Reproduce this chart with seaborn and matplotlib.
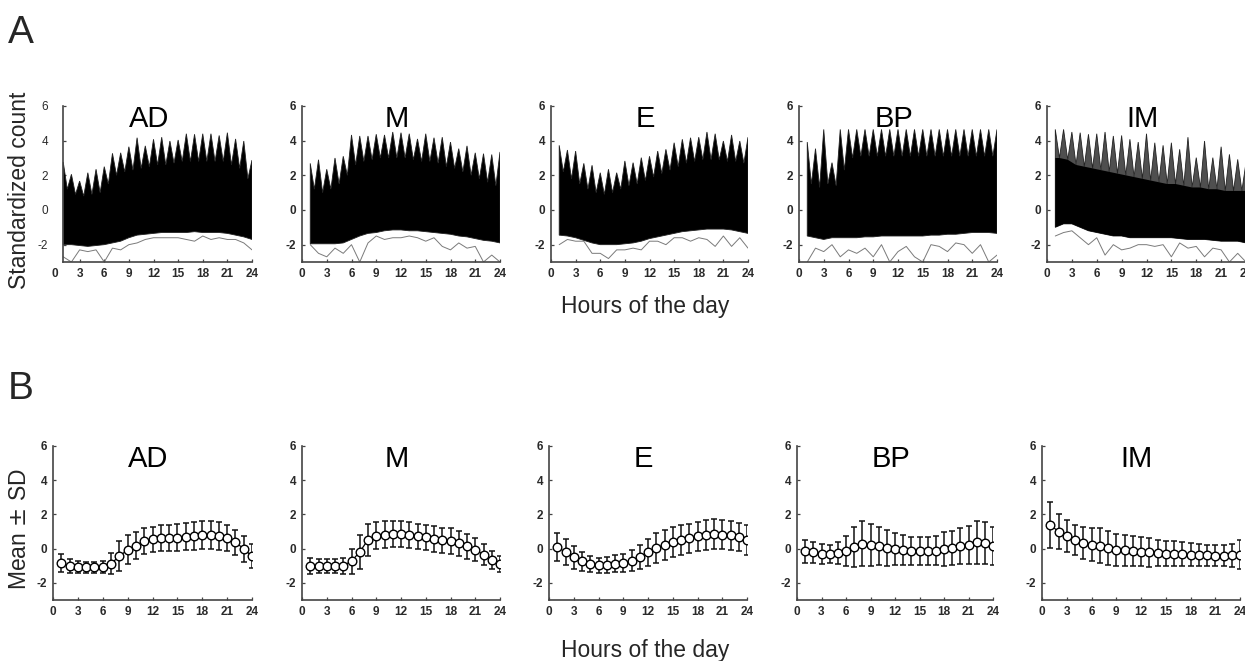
import numpy as np
import pandas as pd
import matplotlib
matplotlib.use("Agg")
import matplotlib.pyplot as plt
import seaborn as sns

# ---------------- data ----------------
groups = ["AD", "M", "E", "BP", "IM"]
hours = list(range(1, 25))
x_ticks = [0, 3, 6, 9, 12, 15, 18, 21, 24]
y_ticks = [-2, 0, 2, 4, 6]

# Panel A: envelope of the standardized-count traces
# peak = highest trace value at each hour, valley = top of dense mass between hours,
# low = bottom of dense mass at each hour, minline = lowest single trace at each hour
ad_peak = [2.77, 2.06, 1.67, 2.15, 2.35, 2.5, 3.27, 3.3, 3.65, 4.17, 3.7, 4.08,
           4.2, 3.98, 4.04, 4.4, 4.37, 4.4, 4.4, 4.3, 4.46, 4.1, 3.98, 2.88]
ad_valley = [1.2, 0.9, 0.8, 0.9, 1.0, 1.5, 2.0, 2.2, 2.3, 2.4, 2.5, 2.6,
             2.6, 2.7, 2.8, 2.8, 2.8, 2.8, 2.8, 2.8, 2.6, 2.4, 1.8]
ad_low = [-2.0, -2.0, -2.05, -2.1, -2.05, -2.0, -1.9, -1.8, -1.6, -1.45, -1.4, -1.35,
          -1.3, -1.3, -1.3, -1.3, -1.25, -1.3, -1.3, -1.3, -1.35, -1.45, -1.55, -1.7]
ad_minline = [-2.7, -3.0, -2.3, -2.4, -2.3, -3.0, -2.2, -2.3, -2.0, -1.9, -1.7, -1.6,
              -1.6, -1.6, -1.6, -1.7, -1.8, -1.5, -1.7, -1.6, -1.7, -1.7, -1.9, -2.3]

m_peak = [2.69, 2.9, 2.35, 3.0, 3.1, 4.33, 4.27, 4.27, 4.37, 4.33, 4.5, 4.46,
          4.4, 4.1, 4.4, 4.17, 4.2, 3.92, 3.54, 3.7, 3.3, 3.25, 3.2, 3.35]
m_valley = [1.2, 1.0, 1.2, 1.5, 2.0, 2.6, 2.8, 2.9, 3.0, 3.0, 3.0, 3.0,
            2.9, 2.8, 2.8, 2.7, 2.5, 2.4, 2.2, 2.0, 1.8, 1.6, 1.4]
m_low = [-1.95, -1.95, -1.95, -1.95, -1.9, -1.7, -1.5, -1.35, -1.3, -1.2, -1.15, -1.15,
         -1.2, -1.2, -1.25, -1.3, -1.35, -1.4, -1.5, -1.55, -1.65, -1.75, -1.8, -1.9]
m_minline = [-2.0, -2.5, -2.7, -2.2, -2.5, -2.0, -3.0, -1.9, -1.5, -1.7, -1.6, -1.6,
             -1.5, -1.6, -1.8, -1.6, -2.1, -2.3, -1.9, -2.2, -2.1, -3.0, -2.6, -3.0]

e_peak = [3.73, 3.46, 3.4, 2.69, 2.58, 2.15, 2.35, 2.15, 2.83, 2.73, 3.02, 3.1,
          3.4, 3.5, 3.88, 4.08, 4.17, 4.2, 4.5, 4.4, 3.98, 4.33, 3.98, 4.2]
e_valley = [2.2, 1.8, 1.5, 1.2, 1.0, 0.9, 1.0, 1.2, 1.4, 1.5, 1.7, 1.9,
            2.1, 2.3, 2.5, 2.7, 2.8, 2.9, 2.9, 2.9, 2.8, 2.8, 2.7]
e_low = [-1.45, -1.5, -1.6, -1.75, -1.9, -2.0, -2.0, -2.0, -1.95, -1.9, -1.8, -1.65,
         -1.55, -1.45, -1.35, -1.25, -1.2, -1.15, -1.1, -1.1, -1.1, -1.15, -1.25, -1.35]
e_minline = [-2.0, -1.7, -1.8, -1.8, -2.5, -2.5, -2.8, -2.3, -2.3, -2.2, -2.3, -1.8,
             -1.8, -2.0, -1.6, -1.6, -1.8, -1.6, -1.7, -2.1, -1.5, -2.1, -1.6, -2.2]

bp_peak = [3.92, 3.54, 4.65, 2.73, 4.65, 4.65, 4.65, 4.65, 4.65, 4.65, 4.65, 4.65,
           4.65, 4.65, 4.65, 4.65, 4.65, 4.65, 4.65, 4.65, 4.65, 4.65, 4.65, 4.65]
bp_valley = [1.5, 1.3, 1.5, 1.4, 2.3, 3.0, 3.1, 3.1, 3.1, 3.1, 3.1, 3.1,
             3.1, 3.1, 3.1, 3.1, 3.1, 3.1, 3.1, 3.1, 3.1, 3.1, 3.1]
bp_low = [-1.5, -1.6, -1.7, -1.6, -1.6, -1.6, -1.6, -1.55, -1.55, -1.5, -1.5, -1.5,
          -1.5, -1.5, -1.5, -1.45, -1.45, -1.4, -1.4, -1.35, -1.3, -1.3, -1.3, -1.35]
bp_minline = [-3.0, -2.2, -2.4, -2.0, -2.7, -2.3, -2.5, -2.2, -2.7, -2.0, -3.0, -2.4,
              -2.1, -2.7, -3.0, -2.0, -2.1, -2.4, -1.9, -2.0, -2.5, -2.0, -3.0, -2.6]

im_peak = [4.65, 4.65, 4.5, 4.46, 4.37, 4.4, 4.5, 4.27, 4.3, 4.08, 3.92, 4.4,
           3.88, 3.73, 3.88, 3.5, 4.2, 3.02, 3.98, 3.02, 3.65, 3.21, 2.92, 2.73]
im_valley = [3.0, 2.9, 2.6, 2.5, 2.4, 2.3, 2.2, 2.1, 2.0, 1.9, 1.8, 1.7,
             1.6, 1.5, 1.5, 1.4, 1.3, 1.3, 1.2, 1.2, 1.1, 1.1, 1.1]
im_low = [-1.0, -0.8, -0.8, -1.0, -1.2, -1.3, -1.4, -1.5, -1.5, -1.6, -1.6, -1.6,
          -1.6, -1.6, -1.6, -1.65, -1.7, -1.7, -1.7, -1.75, -1.8, -1.8, -1.8, -1.9]
im_minline = [-1.5, -1.3, -1.2, -1.6, -2.0, -1.6, -2.6, -2.0, -2.3, -2.2, -2.0, -2.0,
              -2.1, -2.0, -2.7, -1.9, -2.2, -2.1, -2.7, -2.2, -2.3, -3.0, -2.5, -3.0]

# Panel B: hourly mean and SD
ad_mean = [-0.83, -1.02, -1.06, -1.1, -1.1, -1.05, -0.87, -0.45, -0.06, 0.18, 0.43, 0.56,
           0.62, 0.62, 0.64, 0.70, 0.73, 0.79, 0.79, 0.75, 0.62, 0.37, 0.0, -0.45]
ad_sd = [0.53, 0.43, 0.35, 0.3, 0.3, 0.35, 0.6, 0.87, 0.85, 0.8, 0.75, 0.73,
         0.76, 0.76, 0.78, 0.8, 0.8, 0.8, 0.82, 0.8, 0.75, 0.75, 0.75, 0.7]
m_mean = [-0.99, -1.03, -1.03, -1.03, -0.99, -0.73, -0.19, 0.52, 0.75, 0.81, 0.85, 0.85,
          0.81, 0.72, 0.66, 0.58, 0.48, 0.43, 0.33, 0.14, -0.06, -0.35, -0.64, -0.89]
m_sd = [0.47, 0.4, 0.4, 0.4, 0.47, 0.73, 0.98, 0.92, 0.78, 0.78, 0.77, 0.77,
        0.76, 0.74, 0.74, 0.75, 0.75, 0.75, 0.73, 0.73, 0.68, 0.62, 0.53, 0.48]
e_mean = [0.10, -0.21, -0.50, -0.73, -0.89, -0.97, -0.95, -0.89, -0.83, -0.70, -0.48, -0.21,
          0.04, 0.23, 0.37, 0.52, 0.62, 0.72, 0.81, 0.85, 0.81, 0.77, 0.68, 0.52]
e_sd = [0.82, 0.77, 0.66, 0.56, 0.48, 0.44, 0.45, 0.5, 0.53, 0.6, 0.7, 0.8,
        0.85, 0.87, 0.87, 0.87, 0.85, 0.85, 0.87, 0.87, 0.85, 0.86, 0.82, 0.87]
bp_mean = [-0.15, -0.21, -0.29, -0.31, -0.25, -0.15, 0.10, 0.29, 0.23, 0.14, 0.04, -0.02,
           -0.06, -0.12, -0.14, -0.15, -0.12, -0.02, 0.04, 0.14, 0.23, 0.37, 0.33, 0.17]
bp_sd = [0.66, 0.6, 0.58, 0.53, 0.65, 0.89, 1.16, 1.32, 1.22, 1.12, 1.03, 0.93,
         0.88, 0.83, 0.82, 0.83, 0.85, 1.0, 1.02, 1.04, 1.12, 1.26, 1.2, 1.11]
im_mean = [1.39, 1.0, 0.75, 0.52, 0.33, 0.23, 0.17, 0.04, -0.06, -0.10, -0.15, -0.17,
           -0.21, -0.27, -0.29, -0.31, -0.33, -0.35, -0.37, -0.39, -0.41, -0.41, -0.39, -0.35]
im_sd = [1.33, 1.0, 0.92, 0.87, 0.92, 0.97, 1.02, 0.97, 0.93, 0.91, 0.87, 0.87,
         0.85, 0.77, 0.75, 0.73, 0.7, 0.68, 0.66, 0.63, 0.61, 0.61, 0.68, 0.83]

top_data = {
    "AD": (ad_peak, ad_valley, ad_low, ad_minline),
    "M": (m_peak, m_valley, m_low, m_minline),
    "E": (e_peak, e_valley, e_low, e_minline),
    "BP": (bp_peak, bp_valley, bp_low, bp_minline),
    "IM": (im_peak, im_valley, im_low, im_minline),
}
bottom_data = {
    "AD": (ad_mean, ad_sd),
    "M": (m_mean, m_sd),
    "E": (e_mean, e_sd),
    "BP": (bp_mean, bp_sd),
    "IM": (im_mean, im_sd),
}

# ---------------- style ----------------
sns.set_theme(style="ticks")
plt.rcParams["font.family"] = ["Liberation Sans", "DejaVu Sans"]

W, H = 1245, 661
fig = plt.figure(figsize=(W / 100, H / 100), dpi=100)

spine_col = "#444444"
tick_col = "#2a2a2a"
TICK_FS = 8.5

top_px = [(55, 252), (302, 500), (551, 748), (799, 997), (1047, 1246)]
bot_px = [(53, 252), (302, 500), (549, 747), (797, 993), (1042, 1240)]
top_y = (106, 262)
bot_y = (446, 600)


def make_ax(xpx, ypx, ypad=4):
    x0, x1 = xpx
    y0, y1 = ypx
    ax = fig.add_axes([x0 / W, 1 - y1 / H, (x1 - x0) / W, (y1 - y0) / H])
    ax.set_xlim(0, 24)
    ax.set_ylim(-3, 6)
    for s in ["top", "right"]:
        ax.spines[s].set_visible(False)
    for s in ["left", "bottom"]:
        ax.spines[s].set_color(spine_col)
        ax.spines[s].set_linewidth(1.2)
    ax.tick_params(direction="in", length=2.5, width=0.9, color=spine_col,
                   labelsize=TICK_FS, labelcolor=tick_col)
    ax.tick_params(axis="x", pad=4)
    ax.tick_params(axis="y", pad=ypad)
    ax.set_facecolor("white")
    return ax


def finish_ticks(ax):
    ax.set_xticks(x_ticks)
    ax.set_yticks(y_ticks)
    ax.set_xticklabels([str(t) for t in x_ticks], fontsize=TICK_FS, fontweight="bold", color=tick_col)
    ax.set_yticklabels([str(t) for t in y_ticks], fontsize=TICK_FS, fontweight="bold", color=tick_col)


# ---------------- panel A ----------------
for i, g in enumerate(groups):
    ax = make_ax(top_px[i], top_y, ypad=11 if i == 0 else 4)
    peak, valley, low, minline = top_data[g]
    # zigzag upper edge: peaks at whole hours, valleys at half hours
    xs_up, ys_up = [], []
    for k, h in enumerate(hours):
        xs_up.append(h)
        ys_up.append(peak[k])
        if k < len(valley):
            xs_up.append(h + 0.5)
            ys_up.append(valley[k])
    poly_x = xs_up + hours[::-1]
    poly_y = ys_up + low[::-1]
    spike_col = "#4f4f4f" if g == "IM" else "black"
    ax.fill(poly_x, poly_y, color=spike_col, lw=0.6, ec="#222222", zorder=2)
    if g == "IM":
        core_x = [hours[0]] + [h + 0.5 for h in hours[:-1]] + [hours[-1]]
        core_y = [valley[0]] + valley + [valley[-1]]
        ax.fill(core_x + hours[::-1], core_y + low[::-1], color="black", lw=0, zorder=2.5)
    sns.lineplot(x=hours, y=minline, ax=ax, color="#7a7a7a", lw=0.7, zorder=1.5)
    ax.text(11.5, 4.8, g, ha="center", va="baseline", fontsize=21, color="black", zorder=5)
    ax.set_xlabel("")
    ax.set_ylabel("")
    finish_ticks(ax)
    if i == 0:
        ax.spines["left"].set_position(("data", 1))
        ax.spines["bottom"].set_bounds(1, 24)
        ax.xaxis.get_major_ticks()[0].tick1line.set_visible(False)

# ---------------- panel B ----------------
for i, g in enumerate(groups):
    ax = make_ax(bot_px[i], bot_y)
    mean, sd = bottom_data[g]
    ax.errorbar(hours, mean, yerr=sd, fmt="none", ecolor="#111111",
                elinewidth=1.1, capsize=2.3, capthick=1.1, zorder=2)
    sns.lineplot(x=hours, y=mean, ax=ax, color="black", lw=0.9, marker="o",
                 markersize=6.2, markerfacecolor="white", markeredgecolor="black",
                 markeredgewidth=1.0, zorder=3)
    ax.text(11.5, 4.8, g, ha="center", va="baseline", fontsize=21, color="black", zorder=5)
    ax.set_xlabel("")
    ax.set_ylabel("")
    finish_ticks(ax)

# ---------------- figure texts ----------------
fig.text(8 / W, 1 - 43 / H, "A", fontsize=28, va="baseline", ha="left")
fig.text(8 / W, 1 - 399 / H, "B", fontsize=28, va="baseline", ha="left")
fig.text(645 / W, 1 - 306 / H, "Hours of the day", fontsize=16.5, ha="center", va="center")
fig.text(645 / W, 1 - 650 / H, "Hours of the day", fontsize=16.5, ha="center", va="center")
fig.text(20 / W, 1 - 190 / H, "Standardized count", fontsize=16.5, rotation=90,
         ha="center", va="center")
fig.text(20 / W, 1 - 529 / H, "Mean $\\pm$ SD", fontsize=16.5, rotation=90,
         ha="center", va="center")

fig.savefig("out.png", dpi=100, facecolor="white")
